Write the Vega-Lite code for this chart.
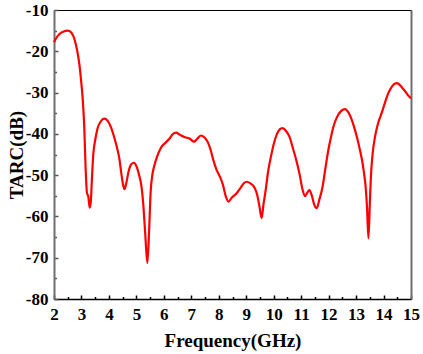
{
  "$schema": "https://vega.github.io/schema/vega-lite/v6.json",
  "width": 357,
  "height": 289,
  "autosize": {"type": "none"},
  "padding": {"left": 54, "top": 10, "right": 12, "bottom": 55},
  "config": {
    "view": {"stroke": "#000000", "strokeWidth": 1},
    "axis": {"grid": false, "labelFont": "Liberation Serif", "labelFontWeight": "bold", "labelFontSize": 17, "labelColor": "#000000", "titleFont": "Liberation Serif", "titleFontWeight": "bold", "titleFontSize": 19, "titleColor": "#000000"}
  },
  "data": {"values": [
    {"f": 2.0, "tarc": -17.8}, {"f": 2.1, "tarc": -16.6}, {"f": 2.2, "tarc": -15.8}, {"f": 2.35, "tarc": -15.2}, {"f": 2.5, "tarc": -15.0},
    {"f": 2.62, "tarc": -15.4}, {"f": 2.75, "tarc": -17.2}, {"f": 2.85, "tarc": -20}, {"f": 2.93, "tarc": -23.5}, {"f": 3.0, "tarc": -28},
    {"f": 3.05, "tarc": -32}, {"f": 3.1, "tarc": -38}, {"f": 3.15, "tarc": -48}, {"f": 3.2, "tarc": -54.3}, {"f": 3.25, "tarc": -55.2},
    {"f": 3.3, "tarc": -57.9}, {"f": 3.34, "tarc": -56.5}, {"f": 3.38, "tarc": -51}, {"f": 3.43, "tarc": -45}, {"f": 3.5, "tarc": -41.5},
    {"f": 3.58, "tarc": -38.8}, {"f": 3.7, "tarc": -37}, {"f": 3.83, "tarc": -36.3}, {"f": 3.95, "tarc": -36.8}, {"f": 4.08, "tarc": -38.5},
    {"f": 4.2, "tarc": -41}, {"f": 4.3, "tarc": -43.5}, {"f": 4.38, "tarc": -46}, {"f": 4.45, "tarc": -49.5}, {"f": 4.52, "tarc": -52.5},
    {"f": 4.57, "tarc": -53.4}, {"f": 4.63, "tarc": -52}, {"f": 4.72, "tarc": -49}, {"f": 4.82, "tarc": -47.3}, {"f": 4.91, "tarc": -47},
    {"f": 5.0, "tarc": -47.8}, {"f": 5.1, "tarc": -50}, {"f": 5.18, "tarc": -52.5}, {"f": 5.25, "tarc": -57}, {"f": 5.32, "tarc": -64},
    {"f": 5.4, "tarc": -71.3}, {"f": 5.46, "tarc": -64}, {"f": 5.52, "tarc": -54}, {"f": 5.58, "tarc": -50}, {"f": 5.65, "tarc": -47.8},
    {"f": 5.75, "tarc": -45.6}, {"f": 5.9, "tarc": -43.3}, {"f": 6.05, "tarc": -42.2}, {"f": 6.2, "tarc": -41.2}, {"f": 6.32, "tarc": -40.1},
    {"f": 6.45, "tarc": -39.7}, {"f": 6.58, "tarc": -40.2}, {"f": 6.77, "tarc": -40.8}, {"f": 6.95, "tarc": -41.2}, {"f": 7.1, "tarc": -41.9},
    {"f": 7.2, "tarc": -41.3}, {"f": 7.35, "tarc": -40.4}, {"f": 7.48, "tarc": -40.9}, {"f": 7.6, "tarc": -42}, {"f": 7.7, "tarc": -43.8},
    {"f": 7.8, "tarc": -46.3}, {"f": 7.92, "tarc": -48.7}, {"f": 8.05, "tarc": -50.5}, {"f": 8.15, "tarc": -52.3}, {"f": 8.25, "tarc": -55},
    {"f": 8.35, "tarc": -56.4}, {"f": 8.48, "tarc": -55.4}, {"f": 8.65, "tarc": -54.4}, {"f": 8.8, "tarc": -53}, {"f": 8.92, "tarc": -51.9},
    {"f": 9.02, "tarc": -51.6}, {"f": 9.15, "tarc": -52}, {"f": 9.3, "tarc": -53}, {"f": 9.4, "tarc": -54.8}, {"f": 9.48, "tarc": -57.5},
    {"f": 9.56, "tarc": -60.4}, {"f": 9.63, "tarc": -57}, {"f": 9.7, "tarc": -54}, {"f": 9.8, "tarc": -49}, {"f": 9.9, "tarc": -45.5},
    {"f": 10.0, "tarc": -42.5}, {"f": 10.12, "tarc": -40}, {"f": 10.22, "tarc": -38.9}, {"f": 10.32, "tarc": -38.6}, {"f": 10.45, "tarc": -39.3},
    {"f": 10.58, "tarc": -40.8}, {"f": 10.7, "tarc": -43.5}, {"f": 10.82, "tarc": -46.3}, {"f": 10.95, "tarc": -50}, {"f": 11.05, "tarc": -53.5},
    {"f": 11.14, "tarc": -55.1}, {"f": 11.22, "tarc": -54.3}, {"f": 11.3, "tarc": -53.6}, {"f": 11.38, "tarc": -54.8}, {"f": 11.47, "tarc": -57},
    {"f": 11.57, "tarc": -58}, {"f": 11.66, "tarc": -56}, {"f": 11.78, "tarc": -52.8}, {"f": 11.88, "tarc": -48.5}, {"f": 11.99, "tarc": -43.9},
    {"f": 12.08, "tarc": -41}, {"f": 12.17, "tarc": -38.4}, {"f": 12.3, "tarc": -36}, {"f": 12.45, "tarc": -34.5}, {"f": 12.6, "tarc": -34},
    {"f": 12.72, "tarc": -34.8}, {"f": 12.82, "tarc": -36.2}, {"f": 12.92, "tarc": -38.2}, {"f": 13.04, "tarc": -41}, {"f": 13.14, "tarc": -43.9},
    {"f": 13.22, "tarc": -46.5}, {"f": 13.29, "tarc": -49.5}, {"f": 13.35, "tarc": -53}, {"f": 13.4, "tarc": -58}, {"f": 13.45, "tarc": -65.3},
    {"f": 13.5, "tarc": -57}, {"f": 13.54, "tarc": -50.4}, {"f": 13.6, "tarc": -45}, {"f": 13.69, "tarc": -40.7}, {"f": 13.8, "tarc": -37.5},
    {"f": 13.93, "tarc": -35}, {"f": 14.05, "tarc": -32.5}, {"f": 14.17, "tarc": -30.2}, {"f": 14.3, "tarc": -28.6}, {"f": 14.4, "tarc": -27.9},
    {"f": 14.48, "tarc": -27.7}, {"f": 14.6, "tarc": -28.2}, {"f": 14.7, "tarc": -29}, {"f": 14.8, "tarc": -29.8}, {"f": 14.9, "tarc": -30.7},
    {"f": 15.0, "tarc": -31.4}
  ]},
  "layer": [
    {
      "mark": {"type": "line", "opacity": 0},
      "encoding": {
        "x": {"field": "f", "type": "quantitative", "scale": {"domain": [2, 15], "nice": false, "zero": false},
              "axis": {"orient": "bottom", "title": null, "labels": false, "domain": false, "values": [2.5, 3.5, 4.5, 5.5, 6.5, 7.5, 8.5, 9.5, 10.5, 11.5, 12.5, 13.5, 14.5], "tickSize": -2.5, "tickColor": "#000000", "tickWidth": 1.5}},
        "y": {"field": "tarc", "type": "quantitative", "scale": {"domain": [-80, -10], "nice": false, "zero": false},
              "axis": {"orient": "left", "title": null, "labels": false, "domain": false, "values": [-75, -65, -55, -45, -35, -25, -15], "tickSize": -2.5, "tickColor": "#555555", "tickWidth": 1.5}}
      }
    },
    {
      "mark": {"type": "line", "opacity": 0},
      "encoding": {
        "x": {"field": "f", "type": "quantitative", "axis": null},
        "y": {"field": "tarc", "type": "quantitative",
              "axis": {"orient": "right", "title": null, "labels": false, "ticks": false, "domain": true, "domainColor": "#6e6e6e", "domainWidth": 2}}
      }
    },
    {
      "mark": {"type": "line", "color": "#ff0000", "strokeWidth": 2.2, "interpolate": "monotone"},
      "encoding": {
        "x": {"field": "f", "type": "quantitative",
              "axis": {"orient": "bottom", "title": "Frequency(GHz)", "values": [2, 3, 4, 5, 6, 7, 8, 9, 10, 11, 12, 13, 14, 15], "tickSize": -4, "tickColor": "#000000", "tickWidth": 1.5, "domainColor": "#000000", "domainWidth": 1.5, "labelPadding": 11, "labelFlush": false, "labelOverlap": false, "titleBaseline": "alphabetic", "titleY": 47, "titlePadding": 0}},
        "y": {"field": "tarc", "type": "quantitative",
              "axis": {"orient": "left", "title": "TARC(dB)", "values": [-80, -70, -60, -50, -40, -30, -20, -10], "tickSize": -4, "tickColor": "#555555", "tickWidth": 1.5, "domainColor": "#6e6e6e", "domainWidth": 2, "labelPadding": 10, "labelFlush": false, "labelOverlap": false, "labelExpr": "toString(datum.value)", "titleBaseline": "alphabetic", "titleX": -32, "titleY": 144.5, "titleAngle": 270, "titleAlign": "center", "titlePadding": 0}}
      }
    }
  ],
  "resolve": {"axis": {"x": "independent", "y": "independent"}}
}
